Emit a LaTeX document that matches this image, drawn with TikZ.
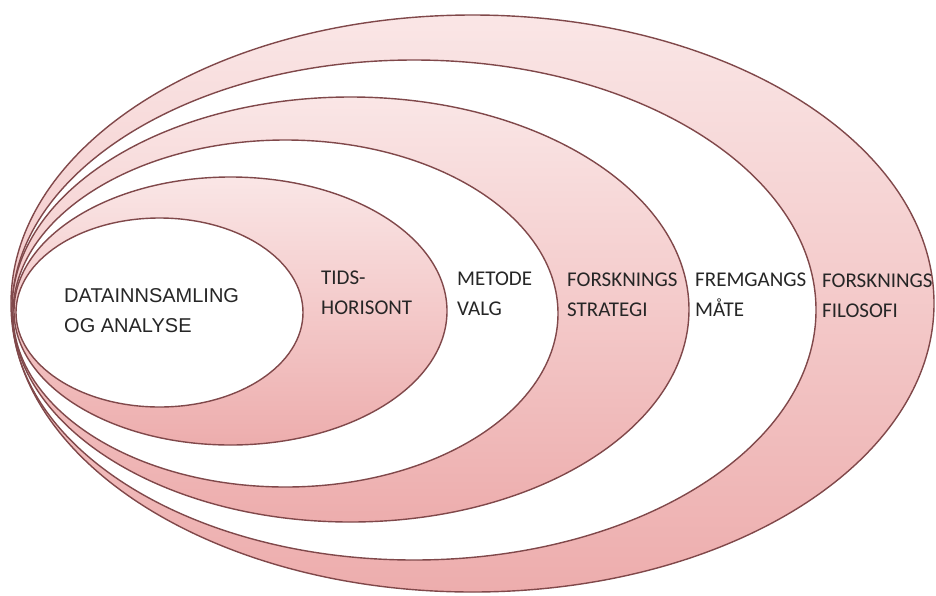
\documentclass[tikz,border=0pt]{standalone}
\usepackage{fontspec}
\setmainfont{Carlito}
\newfontfamily\arialfont{Liberation Sans}
\definecolor{ringline}{HTML}{80484A}
\definecolor{ringtop}{HTML}{FAE6E6}
\definecolor{ringbot}{HTML}{EDADAD}
\tikzset{
  pinkring/.style={draw=ringline, line width=1.4pt, top color=ringtop, bottom color=ringbot},
  whitering/.style={draw=ringline, line width=1.4pt, fill=white},
  lbl/.style={anchor=west, align=left, font=\fontsize{21}{30}\selectfont, text=black!85, inner sep=0pt}
}
\begin{document}
\begin{tikzpicture}[x=1pt,y=-1pt]
\useasboundingbox (0,0) rectangle (936,595);
\clip (0,0) rectangle (936,595);
% nested ellipses, outermost first
\draw [pinkring]  (472.5,303.5) ellipse [x radius=461.5, y radius=288.5];
\draw [whitering] (414,310)     ellipse [x radius=402,   y radius=250];
\draw [pinkring]  (350.5,309.5) ellipse [x radius=338.5, y radius=212.5];
\draw [whitering] (285.5,313.5) ellipse [x radius=272.5, y radius=173.5];
\draw [pinkring]  (230.5,311)   ellipse [x radius=216.5, y radius=134];
\draw [whitering] (159.5,312.5) ellipse [x radius=143.5, y radius=94.5];
% labels
\node [lbl, font=\arialfont\fontsize{20}{30}\selectfont] (data) at (64,311) {DATAINNSAMLING\\OG ANALYSE};
\node [lbl] (tids)    at (321,293) {TIDS-\\HORISONT};
\node [lbl] (metode)  at (457,294) {METODE\\VALG};
\node [lbl] (strat)   at (567,295) {FORSKNINGS\\STRATEGI};
\node [lbl] (fremg)   at (695,295) {FREMGANGS\\MÅTE};
\node [lbl] (filos)   at (822,296) {FORSKNINGS\\FILOSOFI};
\end{tikzpicture}
\end{document}
